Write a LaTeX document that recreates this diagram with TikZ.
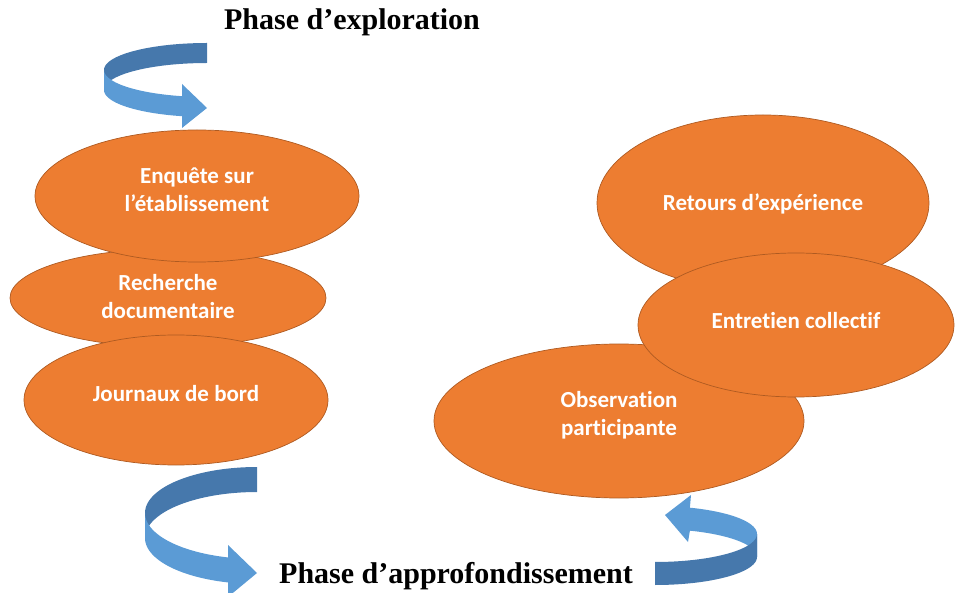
\documentclass[tikz,border=0pt]{standalone}
\usepackage{fontspec}
\setmainfont{Liberation Serif}
\newfontfamily\calibfont[Ligatures={NoCommon}]{Carlito}
\usetikzlibrary{shapes.geometric}
\definecolor{orangebulle}{HTML}{ED7D31}
\definecolor{bordbulle}{HTML}{AE5A21}
\definecolor{bleuclair}{HTML}{5B9BD5}
\definecolor{bleufonce}{HTML}{4678AC}
\tikzset{
  bulle/.style={ellipse, fill=orangebulle, draw=bordbulle, line width=0.7pt, inner sep=0pt},
  texte/.style={text=white, align=center, inner sep=0pt, font=\calibfont\bfseries\fontsize{23}{28}\selectfont},
  phase/.style={font=\bfseries\fontsize{30}{36}\selectfont}
}

\begin{document}
\begin{tikzpicture}[x=1pt, y=-1pt]
                \useasboundingbox (0,0) rectangle (956,593);
                \node[phase] (explo) at (352,22) {Phase d’exploration};
                \node[phase] (appro) at (456,576) {Phase d’approfondissement};
                % phase d'exploration
                \node[bulle, minimum width=316pt, minimum height=98pt,
                  label={[texte, yshift=1pt]center:{Recherche\\documentaire}}] (rech) at (168,298) {};
                \node[bulle, minimum width=304pt, minimum height=130pt,
                  label={[texte, yshift=6pt]center:Journaux de bord}] (journ) at (176,400) {};
                \node[bulle, minimum width=324pt, minimum height=132pt,
                  label={[texte, yshift=6pt]center:{Enquête sur\\l’établissement}}] (enq) at (197,196) {};
                % phase d'approfondissement
                \node[bulle, minimum width=332pt, minimum height=176pt,
                  label={[texte, yshift=-1pt]center:Retours d’expérience}] (ret) at (763,203) {};
                \node[bulle, minimum width=370pt, minimum height=154pt,
                  label={[texte, yshift=6pt]center:{Observation\\participante}}] (obs) at (619,421) {};
                \node[bulle, minimum width=316pt, minimum height=144pt,
                  label={[texte, yshift=4pt]center:Entretien collectif}] (entr) at (796,325) {};
                % fleches
                \fill[bleufonce] plot[domain=-90:-180, samples=40] ({207+103*cos(\x)},{70+27*sin(\x)})
                    -- plot[domain=-180:-90, samples=40] ({207+103*cos(\x)},{90+27*sin(\x)}) -- cycle;
                \fill[bleuclair] plot[domain=180:104, samples=40] ({207+103*cos(\x)},{70+27*sin(\x)})
                    -- (182,84) -- (207,108) -- (182,128)
                    -- plot[domain=104:180, samples=40] ({207+103*cos(\x)},{90+27*sin(\x)}) -- cycle;
                \fill[bleufonce] plot[domain=-90:-180, samples=40] ({257+112*cos(\x)},{513+46*sin(\x)})
                    -- plot[domain=-180:-90, samples=40] ({257+112*cos(\x)},{538+46*sin(\x)}) -- cycle;
                \fill[bleuclair] plot[domain=180:105, samples=40] ({257+112*cos(\x)},{513+46*sin(\x)})
                    -- (228,545) -- (257,573) -- (228,597)
                    -- plot[domain=105:180, samples=40] ({257+112*cos(\x)},{538+46*sin(\x)}) -- cycle;
                \fill[bleuclair] plot[domain=0:-70, samples=40] ({655+102*cos(\x)},{534+28*sin(\x)})
                    -- (691,495) -- (665,515) -- (688,542)
                    -- plot[domain=-70:0, samples=40] ({655+102*cos(\x)},{557+28*sin(\x)}) -- cycle;
                \fill[bleufonce] plot[domain=0:90, samples=40] ({655+102*cos(\x)},{534+28*sin(\x)})
                    -- plot[domain=90:0, samples=40] ({655+102*cos(\x)},{557+28*sin(\x)}) -- cycle;
            \end{tikzpicture}
\end{document}
